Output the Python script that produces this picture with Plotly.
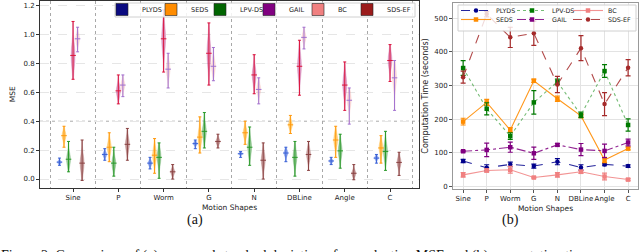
import plotly.graph_objects as go

# ---------------- data ----------------
shapes = ["Sine", "P", "Worm", "G", "N", "DBLine", "Angle", "C"]
methods = ["PLYDS", "SEDS", "LPV-DS", "GAIL", "BC", "SDS-EF"]

# MSE distributions: min, median, max per motion shape
plyds_mse_min = [0.095, 0.13, 0.07, 0.21, 0.15, 0.12, 0.10, 0.11]
plyds_mse_med = [0.117, 0.17, 0.11, 0.245, 0.175, 0.18, 0.125, 0.145]
plyds_mse_max = [0.145, 0.21, 0.15, 0.27, 0.19, 0.22, 0.15, 0.17]

seds_mse_min = [0.22, 0.12, 0.04, 0.18, 0.24, 0.315, 0.15, 0.11]
seds_mse_med = [0.30, 0.22, 0.165, 0.29, 0.32, 0.375, 0.27, 0.215]
seds_mse_max = [0.365, 0.32, 0.28, 0.43, 0.40, 0.44, 0.365, 0.30]

lpv_mse_min = [0.05, 0.02, 0.005, 0.215, 0.095, 0.02, 0.075, 0.06]
lpv_mse_med = [0.137, 0.11, 0.15, 0.33, 0.22, 0.15, 0.195, 0.19]
lpv_mse_max = [0.26, 0.22, 0.25, 0.46, 0.36, 0.26, 0.31, 0.33]

gail_mse_min = [0.69, 0.52, 0.74, 0.65, 0.59, 0.58, 0.475, 0.675]
gail_mse_med = [0.855, 0.61, 0.97, 0.87, 0.72, 0.78, 0.65, 0.82]
gail_mse_max = [1.09, 0.72, 1.17, 1.08, 0.86, 0.96, 0.81, 0.93]

bc_mse_min = [0.88, 0.57, 0.63, 0.68, 0.52, 0.90, 0.38, 0.475]
bc_mse_med = [0.97, 0.65, 0.76, 0.78, 0.62, 0.98, 0.545, 0.70]
bc_mse_max = [1.05, 0.72, 0.87, 0.91, 0.70, 1.05, 0.63, 0.82]

sdsef_mse_min = [-0.01, 0.13, 0.0, 0.215, 0.0, 0.06, -0.005, 0.025]
sdsef_mse_med = [0.11, 0.24, 0.05, 0.26, 0.13, 0.17, 0.04, 0.115]
sdsef_mse_max = [0.27, 0.35, 0.10, 0.31, 0.25, 0.26, 0.10, 0.185]

# Computation time (seconds): mean and std
plyds_time = [76, 56, 66, 61, 74, 57, 66, 61]
plyds_time_err = [5, 9, 7, 6, 9, 8, 4, 4]
seds_time = [193, 250, 168, 314, 261, 210, 79, 113]
seds_time_err = [10, 9, 7, 5, 8, 5, 8, 4]
lpv_time = [352, 231, 150, 250, 311, 213, 343, 183]
lpv_time_err = [22, 18, 10, 35, 8, 8, 19, 18]
gail_time = [105, 109, 117, 99, 124, 110, 106, 131]
gail_time_err = [2, 20, 15, 18, 4, 18, 20, 10]
bc_time = [35, 48, 50, 27, 35, 44, 30, 21]
bc_time_err = [7, 5, 10, 2, 7, 5, 10, 3]
sdsef_time = [325, 512, 443, 455, 303, 411, 245, 353]
sdsef_time_err = [18, 8, 30, 36, 24, 37, 34, 24]

mse = {
    "PLYDS": (plyds_mse_min, plyds_mse_med, plyds_mse_max),
    "SEDS": (seds_mse_min, seds_mse_med, seds_mse_max),
    "LPV-DS": (lpv_mse_min, lpv_mse_med, lpv_mse_max),
    "GAIL": (gail_mse_min, gail_mse_med, gail_mse_max),
    "BC": (bc_mse_min, bc_mse_med, bc_mse_max),
    "SDS-EF": (sdsef_mse_min, sdsef_mse_med, sdsef_mse_max),
}
times = {
    "PLYDS": (plyds_time, plyds_time_err),
    "SEDS": (seds_time, seds_time_err),
    "LPV-DS": (lpv_time, lpv_time_err),
    "GAIL": (gail_time, gail_time_err),
    "BC": (bc_time, bc_time_err),
    "SDS-EF": (sdsef_time, sdsef_time_err),
}

# ---------------- styles ----------------
W, H = 640, 252
FONT = "DejaVu Sans"
offsets = [-0.3, -0.2, -0.1, 0.0, 0.1, 0.2]
violin_fill = {
    "PLYDS": "rgba(65,105,225,0.55)",
    "SEDS": "rgba(255,165,0,0.5)",
    "LPV-DS": "rgba(34,139,34,0.45)",
    "GAIL": "rgba(190,60,140,0.5)",
    "BC": "rgba(240,150,150,0.35)",
    "SDS-EF": "rgba(150,70,70,0.5)",
}
violin_line = {
    "PLYDS": "#3b62d6",
    "SEDS": "#ff9a10",
    "LPV-DS": "#2a9a2a",
    "GAIL": "#dc143c",
    "BC": "#a070d0",
    "SDS-EF": "#8b4343",
}
legend_a_color = {
    "PLYDS": "#0a0a80",
    "SEDS": "#ff8c00",
    "LPV-DS": "#006400",
    "GAIL": "#800080",
    "BC": "#f08080",
    "SDS-EF": "#9b1b1b",
}
time_color = {
    "PLYDS": "#00008b",
    "SEDS": "#ff8c00",
    "LPV-DS": "#007a00",
    "GAIL": "#800080",
    "BC": "#f08080",
    "SDS-EF": "#a52a2a",
}
time_line = {
    "PLYDS": "rgba(0,0,139,0.85)",
    "SEDS": "rgba(255,140,0,0.9)",
    "LPV-DS": "rgba(60,160,60,0.7)",
    "GAIL": "rgba(128,0,128,0.85)",
    "BC": "rgba(240,128,128,0.85)",
    "SDS-EF": "rgba(165,42,42,0.85)",
}
time_dash = {"PLYDS": "dash", "SEDS": "solid", "LPV-DS": "dot",
             "GAIL": "dashdot", "BC": "solid", "SDS-EF": "dash"}
time_symbol = {"PLYDS": "circle", "SEDS": "square", "LPV-DS": "square",
               "GAIL": "square", "BC": "square", "SDS-EF": "circle"}


def px_x(p):
    return p / W


def px_y(p):
    return 1 - p / H


fig = go.Figure()
xs = list(range(len(shapes)))

# ---------------- (a) violins ----------------
for j, m in enumerate(methods):
    lo, med, hi = mse[m]
    pos = [i + offsets[j] for i in xs]
    for i in xs:
        samples = [lo[i]] + [med[i]] * 8 + [hi[i]]
        fig.add_trace(go.Violin(
            x=[pos[i]] * len(samples), y=samples,
            xaxis="x", yaxis="y",
            width=0.085, spanmode="hard", bandwidth=(hi[i] - lo[i]) / 5,
            fillcolor=violin_fill[m], line=dict(color=violin_fill[m], width=0.5),
            points=False, box_visible=False, meanline_visible=False,
            showlegend=False, hoverinfo="skip", scalemode="width",
        ))
    fig.add_trace(go.Scatter(
        x=pos, y=med, mode="markers", xaxis="x", yaxis="y",
        marker=dict(symbol="line-ew", size=4, line=dict(color=violin_line[m], width=1)),
        error_y=dict(type="data", symmetric=False,
                     array=[h - c for h, c in zip(hi, med)],
                     arrayminus=[c - l for c, l in zip(med, lo)],
                     color=violin_line[m], thickness=1, width=1.5),
        showlegend=False, hoverinfo="skip",
    ))

for m in methods:
    fig.add_trace(go.Bar(
        x=[None], y=[None], name=m, xaxis="x", yaxis="y",
        marker=dict(color=legend_a_color[m], line=dict(color="#222", width=0.6)),
        legend="legend", legendwidth=30 if m == "SDS-EF" else None,
    ))

# ---------------- (b) computation time ----------------
row1 = ["PLYDS", "LPV-DS", "BC"]
for m in methods:
    v, e = times[m]
    fig.add_trace(go.Scatter(
        x=xs, y=v, name=m, xaxis="x2", yaxis="y2",
        mode="lines+markers",
        line=dict(color=time_line[m], width=1.1, dash=time_dash[m]),
        marker=dict(color=time_color[m], size=4.5, symbol=time_symbol[m]),
        error_y=dict(type="data", array=e, color=time_color[m], thickness=1.2, width=2.5),
        legend="legend2" if m in row1 else "legend3",
        legendwidth=26 if m == "SDS-EF" else None,
    ))

axis_font = dict(family=FONT, size=7, color="#222")
fig.update_layout(
    width=W, height=H, margin=dict(l=0, r=0, t=0, b=0, autoexpand=False),
    paper_bgcolor="white", plot_bgcolor="white",
    violinmode="overlay", barmode="overlay",
    font=dict(family=FONT, size=7, color="#222"),
    xaxis=dict(
        domain=[px_x(40), px_x(419)], anchor="y",
        range=[-0.73, 7.64], tickmode="array",
        tickvals=xs, ticktext=shapes, tickangle=0,
        showgrid=False, zeroline=False, ticks="outside", ticklen=3,
        tickcolor="#333", tickfont=axis_font,
        showline=True, mirror=True, linecolor="#333", linewidth=1,
        title=dict(text="Motion Shapes", font=dict(family=FONT, size=7.5), standoff=3),
        minor=dict(tickmode="array", tickvals=[i + 0.5 for i in range(-1, len(shapes))],
                   showgrid=True, gridcolor="#a8a8a8", griddash="dot", gridwidth=1, ticks=""),
    ),
    yaxis=dict(
        domain=[px_y(188), px_y(0.5)], anchor="x",
        range=[-0.062, 1.235], tickmode="array",
        tickvals=[0.0, 0.2, 0.4, 0.6, 0.8, 1.0, 1.2],
        ticktext=["0.0", "0.2", "0.4", "0.6", "0.8", "1.0", "1.2"],
        showgrid=True, gridcolor="#e6e6e6", griddash="dash", gridwidth=1,
        zeroline=False, ticks="outside", ticklen=3, tickcolor="#333", tickfont=axis_font,
        showline=True, mirror=True, linecolor="#333", linewidth=1,
        title=dict(text="MSE", font=dict(family=FONT, size=7.5), standoff=6),
    ),
    xaxis2=dict(
        domain=[px_x(453), px_x(638)], anchor="y2",
        range=[-0.43, 7.42], tickmode="array", tickvals=xs, ticktext=shapes, tickangle=0,
        showgrid=True, gridcolor="#e3e3e3", gridwidth=1, zeroline=False,
        ticks="outside", ticklen=3, tickcolor="#555", tickfont=axis_font,
        showline=True, mirror=True, linecolor="#999", linewidth=1,
        title=dict(text="Motion Shapes", font=dict(family=FONT, size=7.5), standoff=3),
    ),
    yaxis2=dict(
        domain=[px_y(189), px_y(3)], anchor="x2",
        range=[-7, 545], tickmode="array", tickvals=[0, 100, 200, 300, 400, 500],
        showgrid=True, gridcolor="#e3e3e3", gridwidth=1, zeroline=False,
        ticks="outside", ticklen=3, tickcolor="#555", tickfont=axis_font,
        showline=True, mirror=True, linecolor="#999", linewidth=1,
        title=dict(text="Computation Time (seconds)", font=dict(family=FONT, size=8), standoff=4),
    ),
    legend=dict(
        orientation="h", x=px_x(102), y=px_y(-5), xanchor="left", yanchor="top",
        entrywidth=4, entrywidthmode="pixels",
        font=dict(family=FONT, size=6.5, color="#222"),
        bgcolor="rgba(0,0,0,0)", borderwidth=0,
        tracegroupgap=0, itemclick=False,
    ),
    legend2=dict(
        orientation="h", x=px_x(456), y=px_y(-4), xanchor="left", yanchor="top",
        entrywidth=11, entrywidthmode="pixels",
        font=dict(family=FONT, size=6.3, color="#222"),
        bgcolor="rgba(0,0,0,0)", borderwidth=0, tracegroupgap=0,
    ),
    legend3=dict(
        orientation="h", x=px_x(456), y=px_y(5), xanchor="left", yanchor="top",
        entrywidth=11, entrywidthmode="pixels",
        font=dict(family=FONT, size=6.3, color="#222"),
        bgcolor="rgba(0,0,0,0)", borderwidth=0, tracegroupgap=0,
    ),
    shapes=[
        dict(type="line", xref="x", yref="y", x0=-0.73, x1=7.64, y0=0.4, y1=0.4,
             line=dict(color="#aaaaaa", width=1, dash="dot"), layer="below"),
        dict(type="rect", xref="paper", yref="paper",
             x0=px_x(115), x1=px_x(415), y0=px_y(17), y1=px_y(3),
             fillcolor="rgba(255,255,255,0.85)", line=dict(color="#d0d0d0", width=1),
             layer="above"),
        dict(type="rect", xref="paper", yref="paper",
             x0=px_x(458), x1=px_x(636), y0=px_y(31), y1=px_y(5),
             fillcolor="rgba(255,255,255,0.8)", line=dict(color="#d0d0d0", width=1),
             layer="above"),
    ],
    annotations=[
        dict(text="(a)", x=px_x(185), y=px_y(230), xref="paper", yref="paper",
             showarrow=False, font=dict(family="Liberation Serif", size=14, color="#111")),
        dict(text="(b)", x=px_x(521), y=px_y(230), xref="paper", yref="paper",
             showarrow=False, font=dict(family="Liberation Serif", size=14, color="#111")),
        dict(text="Figure 2: Comparison of (a) mean and standard deviation of reproduction MSE and (b) computation time",
             x=px_x(-1), y=px_y(246), xref="paper", yref="paper", xanchor="left", yanchor="top",
             showarrow=False, font=dict(family="Liberation Serif", size=14, color="#111")),
    ],
)

fig.write_html("out.html", config={"displayModeBar": False},
               post_script="document.body.style.margin='0';")
